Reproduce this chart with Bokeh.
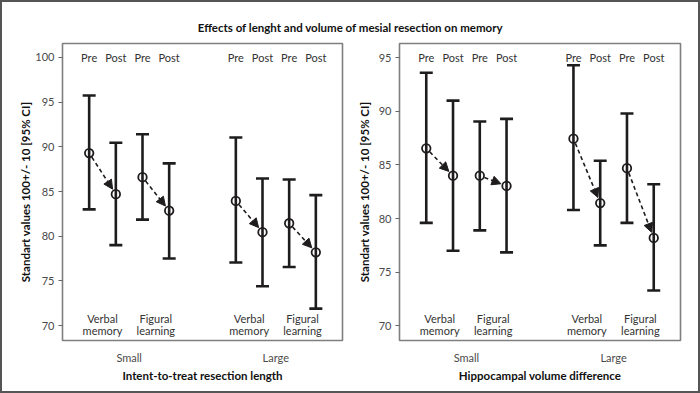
from bokeh.plotting import figure
from bokeh.layouts import column, row
from bokeh.models import ColumnDataSource, Arrow, NormalHead, FixedTicker, Range1d
from bokeh.core.properties import value
from bokeh.embed import file_html
from bokeh.resources import INLINE
import numpy as np

# ---------------- data ----------------
title_text = "Effects of lenght and volume of mesial resection on memory"
x_pos = [1, 2, 3, 4, 6.5, 7.5, 8.5, 9.5]
prepost_labels = ["Pre", "Post", "Pre", "Post", "Pre", "Post", "Pre", "Post"]
group_x = [1.5, 3.5, 7, 9]
group_line1 = ["Verbal", "Figural", "Verbal", "Figural"]
group_line2 = ["memory", "learning", "memory", "learning"]
size_ticks = [2.5, 8]
size_labels = ["Small", "Large"]

left_mean = [89.3, 84.7, 86.6, 82.85, 83.95, 80.45, 81.45, 78.2]
left_lower = [83.0, 79.0, 81.85, 77.5, 77.05, 74.4, 76.55, 71.9]
left_upper = [95.75, 90.45, 91.4, 88.15, 91.05, 86.45, 86.35, 84.6]

right_mean = [86.55, 84.0, 84.0, 83.05, 87.45, 81.45, 84.7, 78.2]
right_lower = [79.6, 77.0, 78.9, 76.85, 80.8, 77.5, 79.6, 73.3]
right_upper = [93.6, 91.0, 89.05, 89.3, 94.3, 85.4, 89.8, 83.2]

left_xtitle = "Intent-to-treat resection length"
right_xtitle = "Hippocampal volume difference"
ytitle = "Standart values 100+/- 10 [95% CI]"
left_yticks = [70, 75, 80, 85, 90, 95, 100]
right_yticks = [70, 75, 80, 85, 90, 95]

# ---------------- style ----------------
FONT = "Lato"
INK = "#1e1c1c"
GRAY = "#4a4a4a"
FRAME_H = 297
FIG_H = 352
TITLE_H = 41


def make_panel(mean, lower, upper, xtitle, yticks, yrange, xrange, border_left,
               border_right, frame_w, ylabel_standoff):
    W = border_left + frame_w + border_right
    p = figure(width=W, height=FIG_H, x_range=Range1d(*xrange), y_range=Range1d(*yrange),
               output_backend="svg", toolbar_location=None,
               min_border_left=border_left, min_border_right=border_right,
               min_border_top=2, min_border_bottom=FIG_H - 2 - FRAME_H)
    p.grid.visible = False
    p.outline_line_color = "#7f7f7f"
    p.outline_line_width = 1.6
    p.background_fill_color = None
    p.border_fill_color = None

    # y axis
    ya = p.yaxis[0]
    ya.ticker = FixedTicker(ticks=yticks)
    ya.axis_line_color = None
    ya.major_tick_line_color = "#666666"
    ya.major_tick_out = 4
    ya.major_tick_in = 0
    ya.minor_tick_line_color = None
    ya.major_label_standoff = 4
    ya.major_label_text_font = FONT
    ya.major_label_text_font_size = "11px"
    ya.major_label_text_color = GRAY
    ya.axis_label = ytitle
    ya.axis_label_text_font = FONT
    ya.axis_label_text_font_style = "bold"
    ya.axis_label_text_font_size = "11.5px"
    ya.axis_label_text_color = "#111111"
    ya.axis_label_standoff = ylabel_standoff

    # x axis
    xa = p.xaxis[0]
    xa.ticker = FixedTicker(ticks=size_ticks)
    xa.major_label_overrides = {t: l for t, l in zip(size_ticks, size_labels)}
    xa.axis_line_color = None
    xa.major_tick_line_color = None
    xa.minor_tick_line_color = None
    xa.major_label_standoff = 4
    xa.major_label_text_font = FONT
    xa.major_label_text_font_size = "11px"
    xa.major_label_text_color = GRAY
    xa.axis_label = xtitle
    xa.axis_label_text_font = FONT
    xa.axis_label_text_font_style = "bold"
    xa.axis_label_text_font_size = "11.5px"
    xa.axis_label_text_color = "#111111"
    xa.axis_label_standoff = 2

    ypx = FRAME_H / (yrange[1] - yrange[0])
    xpx = frame_w / (xrange[1] - xrange[0])

    def y_at(px_from_top):
        return yrange[1] - px_from_top / ypx

    src = ColumnDataSource(dict(x=x_pos, m=mean, lo=lower, hi=upper))
    p.segment(x0="x", y0="lo", x1="x", y1="hi", source=src, line_color=INK, line_width=2.6)
    p.scatter(x="x", y="lo", source=src, marker="dash", size=13, line_color=INK, line_width=2.6)
    p.scatter(x="x", y="hi", source=src, marker="dash", size=13, line_color=INK, line_width=2.6)
    p.scatter(x="x", y="m", source=src, marker="circle", size=8.5, fill_color=None,
              line_color=INK, line_width=1.8)

    # arrows from Pre mean to Post mean, shortened in screen space
    xs, ys, xe, ye = [], [], [], []
    for i in range(0, len(x_pos), 2):
        x0, y0, x1, y1 = x_pos[i], mean[i], x_pos[i + 1], mean[i + 1]
        dx = (x1 - x0) * xpx
        dy = (y1 - y0) * ypx
        L = np.hypot(dx, dy)
        s0, s1 = 5.0 / L, 6.0 / L
        xs.append(x0 + (x1 - x0) * s0)
        ys.append(y0 + (y1 - y0) * s0)
        xe.append(x1 - (x1 - x0) * s1)
        ye.append(y1 - (y1 - y0) * s1)
    asrc = ColumnDataSource(dict(xs=xs, ys=ys, xe=xe, ye=ye))
    p.add_layout(Arrow(x_start="xs", y_start="ys", x_end="xe", y_end="ye", source=asrc,
                       line_color=INK, line_width=1.6, line_dash="4 3",
                       end=NormalHead(size=9, fill_color=INK, line_color=INK, line_width=1)))

    tf = value(FONT)
    p.text(x=x_pos, y=[y_at(14)] * len(x_pos), text=prepost_labels, text_font=tf,
           text_font_size="11px", text_color="#333333", text_align="center",
           text_baseline="middle")
    p.text(x=group_x, y=[y_at(274.7)] * len(group_x), text=group_line1, text_font=tf,
           text_font_size="11px", text_color="#333333", text_align="center",
           text_baseline="middle")
    p.text(x=group_x, y=[y_at(287)] * len(group_x), text=group_line2, text_font=tf,
           text_font_size="11px", text_color="#333333", text_align="center",
           text_baseline="middle")
    return p


left = make_panel(left_mean, left_lower, left_upper, left_xtitle, left_yticks,
                  (68.33, 101.56), (0, 10.5), 62, 8, 280, 0)
right = make_panel(right_mean, right_lower, right_upper, right_xtitle, right_yticks,
                   (68.63, 96.33), (0, 10.5), 49, 20, 281, 5)

tfig = figure(width=700, height=TITLE_H, x_range=(0, 1), y_range=(0, 1),
              output_backend="svg", toolbar_location=None, min_border=0)
tfig.axis.visible = False
tfig.grid.visible = False
tfig.outline_line_color = None
tfig.background_fill_color = None
tfig.border_fill_color = None
tfig.text(x=[0.5], y=[1 - 27 / TITLE_H], text=[title_text], text_font=value(FONT),
          text_font_style="bold", text_font_size="11.5px", text_color="#111111",
          text_align="center", text_baseline="middle")

layout = column(tfig, row(left, right),
                styles={"outline": "2px solid #555555", "outline-offset": "-2px",
                        "background-color": "white"})

open("out.html", "w").write(file_html(layout, INLINE))
